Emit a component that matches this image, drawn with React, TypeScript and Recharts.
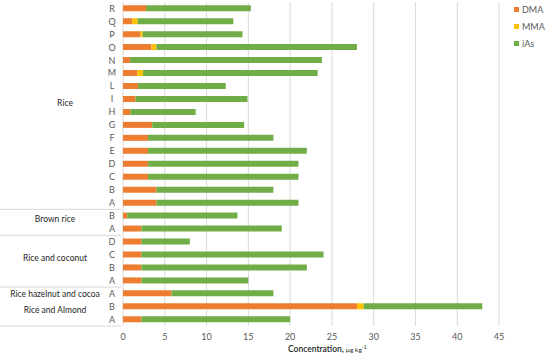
import React from 'react';
import { BarChart, Bar, XAxis, YAxis, CartesianGrid, Legend, Label } from 'recharts';

// sample letters, top to bottom
const letters = ['R', 'Q', 'P', 'O', 'N', 'M', 'L', 'I', 'H', 'G', 'F', 'E', 'D', 'C', 'B', 'A', 'B', 'A', 'D', 'C', 'B', 'A', 'A', 'B', 'A'];
const groupNames = ['Rice', 'Brown rice', 'Rice and coconut', 'Rice hazelnut and cocoa', 'Rice and Almond'];
const groupOf = [0, 0, 0, 0, 0, 0, 0, 0, 0, 0, 0, 0, 0, 0, 0, 0, 1, 1, 2, 2, 2, 2, 3, 4, 4];
const groupRule = [true, true, true, false, true];

// µg/kg
const dma = [2.75, 1.1, 2.1, 3.4, 0.85, 1.7, 1.8, 1.5, 0.9, 3.5, 3.0, 3.0, 3.0, 3.0, 4.0, 4.0, 0.5, 2.2, 2.2, 2.2, 2.2, 2.2, 5.8, 28.0, 2.2];
const mma = [0, 0.65, 0.25, 0.6, 0, 0.7, 0, 0, 0, 0, 0, 0, 0, 0, 0, 0, 0, 0, 0, 0, 0, 0, 0, 0.8, 0];
const ias = [12.55, 11.45, 11.95, 24.0, 22.95, 20.9, 10.5, 13.4, 7.8, 11.0, 15.0, 19.0, 18.0, 18.0, 14.0, 17.0, 13.2, 16.8, 5.8, 21.8, 19.8, 12.8, 12.2, 14.2, 17.8];

const xTicks = [0, 5, 10, 15, 20, 25, 30, 35, 40, 45];

const W = 550;
const H = 357;
const TOP = 2;
const XAXIS_H = 31;
const STEP = (H - TOP - XAXIS_H) / letters.length;

const data = letters.map((l, i) => ({ id: i, letter: l, DMA: dma[i], MMA: mma[i], iAs: ias[i] }));

const colors = { DMA: '#ED7D31', MMA: '#FFC000', iAs: '#70AD47' };

const RowTick = (props: any) => {
	const { y, payload } = props;
	const i = Number(payload.value);
	const g = groupOf[i];
	const first = i === 0 || groupOf[i - 1] !== g;
	const last = i === letters.length - 1 || groupOf[i + 1] !== g;
	const n = groupOf.filter((v) => v === g).length;
	const labelY = y + ((n - 1) / 2) * STEP - (n > 1 ? 3 : 0);
	return (
		<g>
			<text x={112} y={y} dy={3.2} textAnchor='middle' fill='#595959' fontSize={9}>
				{letters[i]}
			</text>
			{first && (
				<text x={g === 0 ? 65 : 55} y={labelY} dy={3} textAnchor='middle' fill='#262626' fontSize={8.5}>
					{groupNames[g]}
				</text>
			)}
			{last && groupRule[g] && (
				<line x1={0} x2={121} y1={y + STEP / 2} y2={y + STEP / 2} stroke='#d9d9d9' strokeWidth={1} />
			)}
		</g>
	);
};

const AxisTitle = (props: any) => {
	const { viewBox } = props;
	return (
		<text x={288} y={viewBox.y + 26} textAnchor='start' fill='#262626'>
			<tspan fontSize={8.5} fontWeight={600}>Concentration, </tspan>
			<tspan fontSize={6.5}>µg kg</tspan>
			<tspan fontSize={5} dy={-3}>-1</tspan>
		</text>
	);
};

const LegendBox = () => (
	<div style={{ fontSize: 9, color: '#595959' }}>
		{(['DMA', 'MMA', 'iAs'] as const).map((k) => (
			<div key={k} style={{ display: 'flex', alignItems: 'center', height: 17 }}>
				<span style={{ width: 5, height: 5, background: colors[k], marginRight: 3, display: 'inline-block' }} />
				<span>{k}</span>
			</div>
		))}
	</div>
);

export default function App() {
	return (
		<div style={{ position: 'absolute', left: 0, top: 0, fontFamily: 'Lato, sans-serif' }}>
			<BarChart
				width={W}
				height={H}
				data={data}
				layout='vertical'
				margin={{ top: TOP, right: 17, left: 0, bottom: 0 }}
				barCategoryGap='25%'
			>
				<CartesianGrid horizontal={false} stroke='#d9d9d9' />
				<XAxis
					type='number'
					domain={[0, 45]}
					ticks={xTicks}
					axisLine={false}
					tickLine={false}
					height={XAXIS_H}
					tick={{ fontSize: 9, fill: '#595959' }}
				>
					<Label content={<AxisTitle />} />
				</XAxis>
				<YAxis
					type='category'
					dataKey='id'
					width={123}
					axisLine={false}
					tickLine={false}
					interval={0}
					tick={<RowTick />}
				/>
				<Legend
					layout='vertical'
					verticalAlign='top'
					align='right'
					wrapperStyle={{ top: 1, right: 2, width: 34 }}
					content={<LegendBox />}
				/>
				<Bar dataKey='DMA' stackId='a' fill={colors.DMA} isAnimationActive={false} />
				<Bar dataKey='MMA' stackId='a' fill={colors.MMA} isAnimationActive={false} />
				<Bar dataKey='iAs' stackId='a' fill={colors.iAs} isAnimationActive={false} />
			</BarChart>
		</div>
	);
}
